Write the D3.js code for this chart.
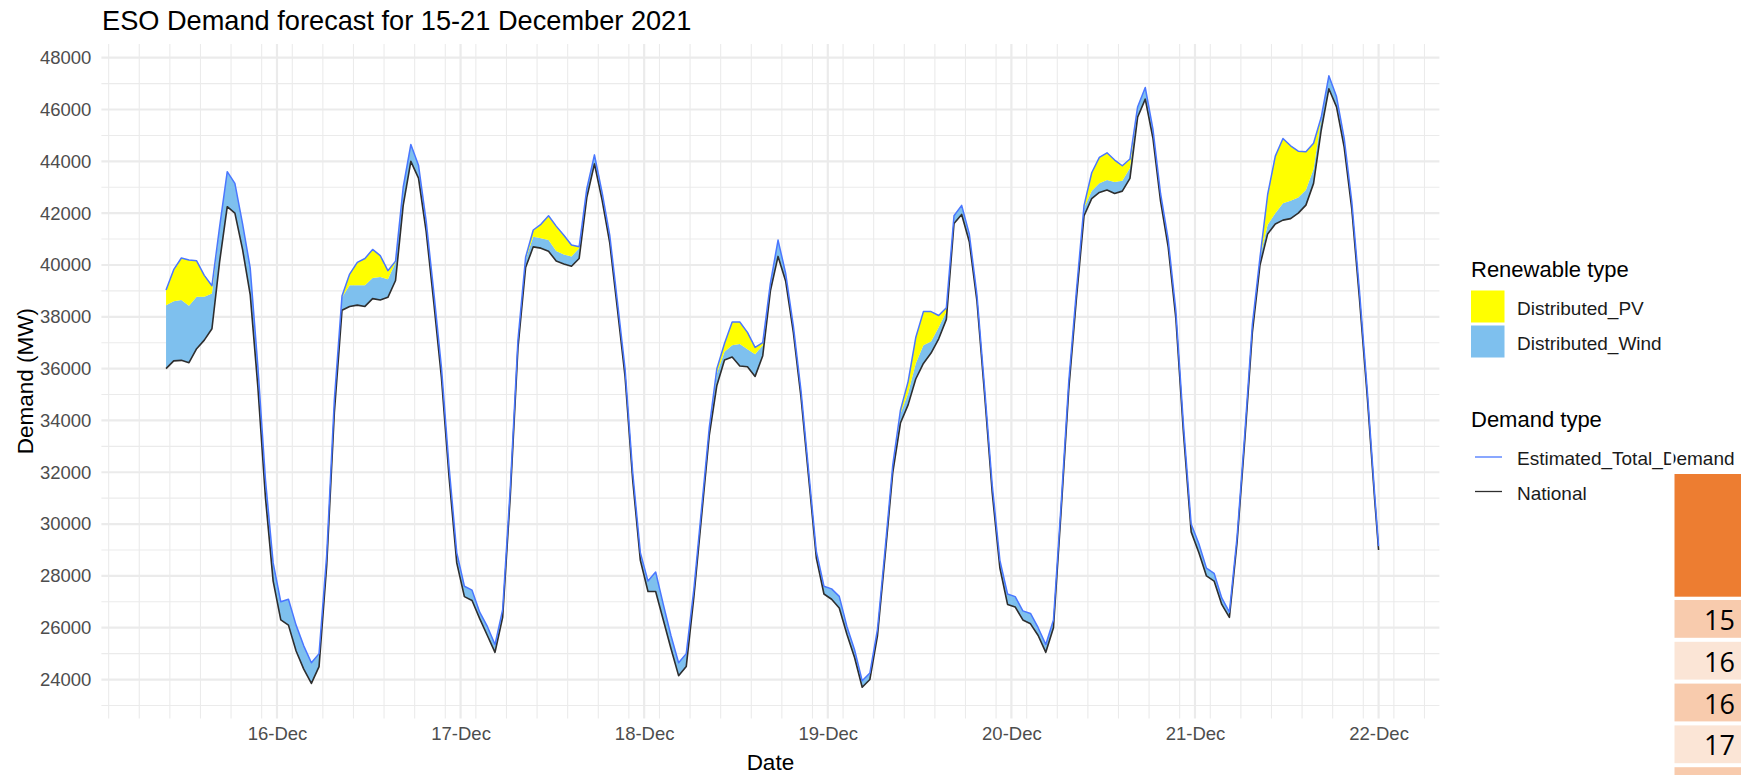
<!DOCTYPE html>
<html>
<head>
<meta charset="utf-8">
<script src="https://cdn.jsdelivr.net/npm/d3@7"></script>
<style>
  body { margin: 0; background: #fff; }
  text { font-family: "Liberation Sans", Arial, sans-serif; }
</style>
</head>
<body>
<svg id="chart" width="1741" height="775"></svg>
<script>
// hourly samples at :30 from 15-Dec 09:30, last value is 22-Dec 00:00 (MW)
const national = [
  36000, 36300, 36320, 36230, 36770, 37100, 37540, 40120, 42250, 42000, 40600, 38860, 35300, 31000, 27800,
  26300, 26100, 25100, 24400, 23850, 24500, 28400, 34300, 38250, 38400, 38450, 38400, 38700, 38650, 38750, 39400, 42300, 44000, 43350, 41300, 38550, 35650, 31800, 28500,
  27200, 27050, 26350, 25700, 25050, 26400, 31100, 36800, 39900, 40700, 40650, 40530, 40150, 40040, 39950, 40250, 42600, 43900, 42500, 40850, 38300, 35700, 31700, 28600,
  27400, 27400, 26300, 25200, 24150, 24500, 27200, 30300, 33400, 35350, 36330, 36450, 36100, 36070, 35700, 36500, 39000, 40330, 39370, 37400, 34900, 31800, 28700, 27300,
  27100, 26760, 25750, 24850, 23700, 24000, 25700, 28800, 32000, 33900, 34600, 35600, 36200, 36600, 37150, 37900, 41600, 41950, 40900, 38600, 35000, 31200, 28300, 26900,
  26800, 26300, 26150, 25700, 25050, 26000, 30500, 35200, 38700, 41900, 42560, 42800, 42890, 42760, 42850, 43340, 45700, 46400, 44900, 42460, 40690, 37940, 33500, 29700,
  28900, 28000, 27800, 26900, 26400, 29300, 33200, 37400, 40000, 41200, 41580, 41730, 41790, 42000, 42310, 43150, 45200, 46800, 46100, 44550, 42150, 38700, 35000, 30900,
  29000
];
const distWind = [
  2450, 2300, 2330, 2200, 2000, 1670, 1360, 1350, 1350, 1150, 1000, 1030, 800, 700, 700,
  700, 1000, 1000, 900, 800, 500, 400, 500, 500, 820, 770, 820, 800, 890, 700, 700, 700, 650, 500, 400, 400, 400, 400, 400,
  400, 400, 250, 350, 300, 300, 300, 300, 300, 390, 380, 430, 390, 360, 380, 400, 350, 350, 300, 300, 300, 300, 300, 300,
  400, 750, 600, 500, 500, 500, 300, 300, 300, 450, 320, 450, 850, 680, 850, 400, 300, 630, 300, 250, 250, 250, 250, 300,
  400, 450, 300, 300, 250, 250, 250, 250, 300, 350, 450, 600, 700, 450, 450, 300, 300, 350, 300, 250, 250, 300, 300, 400,
  400, 350, 400, 300, 300, 300, 250, 300, 300, 300, 300, 350, 390, 440, 400, 400, 400, 450, 350, 300, 300, 300, 300, 300,
  350, 300, 300, 250, 200, 200, 250, 300, 300, 350, 420, 650, 690, 600, 580, 550, 450, 500, 400, 350, 300, 300, 250, 200,
  150
];
const distPV = [
  580, 1220, 1620, 1760, 1390, 830, 300, 0, 0, 0, 0, 0, 0, 0, 0,
  0, 0, 0, 0, 0, 0, 0, 0, 50, 430, 880, 1030, 1100, 820, 330, 50, 0, 0, 0, 0, 0, 0, 0, 0,
  0, 0, 0, 0, 0, 0, 0, 0, 100, 260, 540, 940, 960, 750, 440, 50, 0, 0, 0, 0, 0, 0, 0, 0,
  0, 0, 0, 0, 0, 0, 0, 0, 0, 200, 320, 900, 850, 650, 270, 100, 0, 0, 0, 0, 0, 0, 0, 0,
  0, 0, 0, 0, 0, 0, 0, 0, 0, 150, 450, 1000, 1300, 1150, 450, 150, 0, 0, 0, 0, 0, 0, 0, 0,
  0, 0, 0, 0, 0, 0, 0, 0, 0, 100, 700, 1000, 1050, 850, 580, 350, 0, 0, 0, 0, 0, 0, 0, 0,
  0, 0, 0, 0, 0, 0, 0, 0, 0, 1170, 2200, 2500, 2120, 1790, 1480, 1000, 50, 0, 0, 0, 0, 0, 0, 0,
  0
];
const yTicks = [24000, 26000, 28000, 30000, 32000, 34000, 36000, 38000, 40000, 42000, 44000, 46000, 48000];
const dayTicks = [16, 17, 18, 19, 20, 21, 22];
const renewLabels = ['Distributed_PV', 'Distributed_Wind'];
const demandLabels = ['Estimated_Total_Demand', 'National'];
const tableValues = ['15', '16', '16', '17', ''];

const firstTime = Date.UTC(2021, 11, 15, 9, 30);
const dataStart = Date.UTC(2021, 11, 15, 9, 0);
const dataEnd = Date.UTC(2021, 11, 22, 0, 0);
const times = national.map((d, i) => new Date(i === national.length - 1 ? dataEnd : firstTime + i * 3600000));
const rows = times.map((t, i) => ({t: t, nat: national[i], wind: distWind[i], pv: distPV[i]}));

const colors = {pv: '#ffff00', wind: '#7ec0ee', total: '#4a77ff', nat: '#2e2e2e', grid: '#ebebeb', axis: '#4d4d4d'};

const panel = {left: 101.4, right: 1439.4, top: 43.97, bottom: 718.4};

const svg = d3.select('#chart');
svg.append('rect').attr('width', 1741).attr('height', 775).attr('fill', '#fff');

const pad = 0.05 * (dataEnd - dataStart);
const x = d3.scaleUtc()
  .domain([new Date(dataStart - pad), new Date(dataEnd + pad)])
  .range([panel.left, panel.right]);
const y = d3.scaleLinear()
  .domain([22500, 48530])
  .range([panel.bottom, panel.top]);

// grid
const grid = svg.append('g');
const minorY = d3.range(23000, 48001, 2000);
grid.selectAll('.minY').data(minorY).join('line')
  .attr('x1', panel.left).attr('x2', panel.right)
  .attr('y1', d => y(d)).attr('y2', d => y(d))
  .attr('stroke', colors.grid).attr('stroke-width', 1.1);
const minorX = d3.utcHour.every(1).range(x.domain()[0], x.domain()[1]).filter((d, i) => i % 4 === 0);
grid.selectAll('.minX').data(minorX).join('line')
  .attr('x1', d => x(d)).attr('x2', d => x(d))
  .attr('y1', panel.top).attr('y2', panel.bottom)
  .attr('stroke', colors.grid).attr('stroke-width', 1.1);
grid.selectAll('.majY').data(yTicks).join('line')
  .attr('x1', panel.left).attr('x2', panel.right)
  .attr('y1', d => y(d)).attr('y2', d => y(d))
  .attr('stroke', colors.grid).attr('stroke-width', 2.2);
const dayDates = dayTicks.map(d => new Date(Date.UTC(2021, 11, d)));
grid.selectAll('.majX').data(dayDates).join('line')
  .attr('x1', d => x(d)).attr('x2', d => x(d))
  .attr('y1', panel.top).attr('y2', panel.bottom)
  .attr('stroke', colors.grid).attr('stroke-width', 2.2);

// stacked areas on top of national demand
const windArea = d3.area()
  .x(d => x(d.t))
  .y0(d => y(d.nat))
  .y1(d => y(d.nat + d.wind));
const pvArea = d3.area()
  .x(d => x(d.t))
  .y0(d => y(d.nat + d.wind))
  .y1(d => y(d.nat + d.wind + d.pv));
svg.append('path').datum(rows).attr('d', windArea).attr('fill', colors.wind);
svg.append('path').datum(rows).attr('d', pvArea).attr('fill', colors.pv);

svg.append('path').datum(rows)
  .attr('fill', 'none').attr('stroke', colors.nat).attr('stroke-width', 1.6)
  .attr('stroke-linejoin', 'round')
  .attr('d', d3.line().x(d => x(d.t)).y(d => y(d.nat)));
svg.append('path').datum(rows)
  .attr('fill', 'none').attr('stroke', colors.total).attr('stroke-width', 1.5)
  .attr('stroke-linejoin', 'round')
  .attr('d', d3.line().x(d => x(d.t)).y(d => y(d.nat + d.wind + d.pv)));

// axes
const yAxis = svg.append('g')
  .attr('transform', 'translate(' + panel.left + ',0)')
  .call(d3.axisLeft(y).tickValues(yTicks).tickSize(0).tickPadding(10).tickFormat(d3.format('d')));
const xAxis = svg.append('g')
  .attr('transform', 'translate(0,' + panel.bottom + ')')
  .call(d3.axisBottom(x).tickValues(dayDates).tickSize(0).tickPadding(8.5).tickFormat(d3.utcFormat('%d-%b')));
[yAxis, xAxis].forEach(a => {
  a.select('.domain').remove();
  a.selectAll('text')
    .attr('fill', colors.axis)
    .style('font-family', '"Liberation Sans", Arial, sans-serif')
    .style('font-size', '18.5px');
});

svg.append('text')
  .attr('x', 102).attr('y', 30)
  .attr('font-size', '27.2px').attr('fill', '#000')
  .text('ESO Demand forecast for 15-21 December 2021');
svg.append('text')
  .attr('x', (panel.left + panel.right) / 2).attr('y', 770)
  .attr('text-anchor', 'middle').attr('font-size', '22.5px')
  .text('Date');
svg.append('text')
  .attr('transform', 'translate(33,' + (panel.top + panel.bottom) / 2 + ') rotate(-90)')
  .attr('text-anchor', 'middle').attr('font-size', '22.5px')
  .text('Demand (MW)');

// legends
const leg = svg.append('g').attr('transform', 'translate(1471,0)');
leg.append('text').attr('x', 0).attr('y', 277).attr('font-size', '22px').text('Renewable type');
const keyColors = [colors.pv, colors.wind];
renewLabels.forEach((lab, i) => {
  leg.append('rect').attr('x', 0).attr('y', 290.5 + i * 35).attr('width', 33.5).attr('height', 32)
    .attr('fill', keyColors[i]);
  leg.append('text').attr('x', 46).attr('y', 315 + i * 35).attr('font-size', '19px').attr('fill', '#1a1a1a').text(lab);
});
leg.append('text').attr('x', 0).attr('y', 427).attr('font-size', '22px').text('Demand type');
const lineColors = [colors.total, colors.nat];
demandLabels.forEach((lab, i) => {
  leg.append('line').attr('x1', 4).attr('x2', 31).attr('y1', 457 + i * 34.5).attr('y2', 457 + i * 34.5)
    .attr('stroke', lineColors[i]).attr('stroke-width', 1.3);
  leg.append('text').attr('x', 46).attr('y', 465 + i * 35).attr('font-size', '19px').attr('fill', '#1a1a1a').text(lab);
});

// pasted table fragment at the right edge
svg.append('rect').attr('x', 1671.2).attr('y', 445).attr('width', 2.4).attr('height', 330).attr('fill', '#fff');
svg.append('rect').attr('x', 1674.5).attr('y', 474).attr('width', 70).attr('height', 122.7).attr('fill', '#ed7d31');
const cellFill = ['#f8cbad', '#fbe5d6', '#f8cbad', '#fbe5d6', '#f8cbad'];
tableValues.forEach((v, i) => {
  const top = 600 + i * 41.8;
  svg.append('rect').attr('x', 1674.5).attr('y', top).attr('width', 70).attr('height', 37.8).attr('fill', cellFill[i]);
  svg.append('text').attr('x', 1735).attr('y', top + 30).attr('text-anchor', 'end')
    .style('font-family', '"Open Sans", "Noto Sans", sans-serif').attr('font-size', '27px').attr('fill', '#000').text(v);
});
</script>
</body>
</html>
